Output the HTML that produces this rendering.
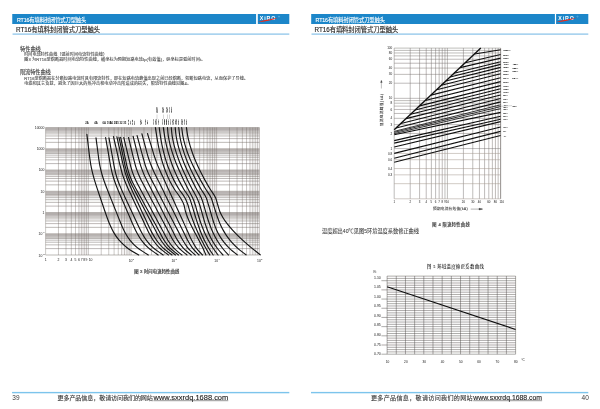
<!DOCTYPE html>
<html lang="zh"><head><meta charset="utf-8"><title>RT16有填料封闭管式刀型触头</title>
<style>
html,body{margin:0;padding:0;background:#fff;}
body{width:600px;height:409px;overflow:hidden;font-family:"Liberation Sans","Noto Sans CJK SC",sans-serif;}
svg{display:block;position:absolute;left:0;top:0;}
text{font-family:"Liberation Sans","Noto Sans CJK SC",sans-serif;}
text.sf{font-family:"Liberation Serif","Noto Serif CJK SC",serif;}
</style></head><body>
<svg width="600" height="409" viewBox="0 0 600 409">
<filter id="bl" x="0" y="0" width="600" height="409" filterUnits="userSpaceOnUse"><feGaussianBlur stdDeviation="0.32"/></filter>
<rect width="600" height="409" fill="#fff"/>
<g filter="url(#bl)">
<rect x="12.25" y="14" width="277.05" height="10" fill="#1b86c9"/>
<rect x="256.10" y="13.5" width="1.70" height="11" fill="#fff"/>
<rect x="12.55" y="33.5" width="276.75" height="1.2" fill="#86c1e8"/>
<rect x="12.05" y="391.9" width="277.25" height="1.4" fill="#7cc4ec"/>
<text x="259.70" y="20.1" font-family="Liberation Sans, sans-serif" font-weight="bold" font-size="5.3" fill="#fff" letter-spacing="0.95">XiRO</text>
<path d="M257.90 22.0C264.70 21.9 272.20 20.6 277.90 17.8C272.20 19.0 264.70 19.9 257.90 22.0Z" fill="#ea2a1c"/>
<circle cx="279.00" cy="16.6" r="0.6" fill="none" stroke="#cfe6f5" stroke-width="0.25"/>
<rect x="311.20" y="14" width="277.10" height="10" fill="#1b86c9"/>
<rect x="554.90" y="13.5" width="1.20" height="11" fill="#fff"/>
<rect x="311.50" y="33.5" width="276.80" height="1.2" fill="#86c1e8"/>
<rect x="311.00" y="391.9" width="277.30" height="1.4" fill="#7cc4ec"/>
<text x="558.20" y="20.1" font-family="Liberation Sans, sans-serif" font-weight="bold" font-size="5.3" fill="#fff" letter-spacing="0.95">XiRO</text>
<path d="M556.40 22.0C563.20 21.9 570.70 20.6 576.40 17.8C570.70 19.0 563.20 19.9 556.40 22.0Z" fill="#ea2a1c"/>
<circle cx="577.50" cy="16.6" r="0.6" fill="none" stroke="#cfe6f5" stroke-width="0.25"/>
<text x="17.00" y="21.61" font-size="5.3" fill="#ffffff" stroke="#ffffff" stroke-width="0.12" textLength="69.3">RT16有填料封闭管式刀型触头</text>
<text x="16.00" y="32.09" font-size="6.3" fill="#2b2b2b" stroke="#2b2b2b" stroke-width="0.15" textLength="84">RT16有填料封闭管式刀型触头</text>
<text x="315.60" y="21.61" font-size="5.3" fill="#ffffff" stroke="#ffffff" stroke-width="0.12" textLength="69.4">RT16有填料封闭管式刀型触头</text>
<text x="314.50" y="32.09" font-size="6.3" fill="#2b2b2b" stroke="#2b2b2b" stroke-width="0.15" textLength="83.9">RT16有填料封闭管式刀型触头</text>
<text x="20.00" y="50.78" font-size="5.2" fill="#404040" stroke="#404040" stroke-width="0.1" textLength="20.8">特性曲线</text>
<text x="24.20" y="55.86" font-size="4.1" fill="#454545" stroke="#454545" stroke-width="0.08" textLength="82.8">时间电流特性曲线（弧前时间电流特性曲线）</text>
<text x="24.20" y="60.86" font-size="4.1" fill="#454545" stroke="#454545" stroke-width="0.08" textLength="181">图3 为RT16型熔断器时间电流特性曲线，横坐标为预期短路电流Ip(有效值)，纵坐标是弧前时间t。</text>
<text x="20.00" y="74.48" font-size="5.2" fill="#404040" stroke="#404040" stroke-width="0.1" textLength="30.8">限流特性曲线</text>
<text x="24.20" y="79.56" font-size="4.1" fill="#454545" stroke="#454545" stroke-width="0.08" textLength="223.8">RT16型熔断器在分断短路电流时具有限流特性，即在短路电流峰值出现之前已经熔断，切断短路电流，从而保护了导线、</text>
<text x="24.20" y="84.56" font-size="4.1" fill="#454545" stroke="#454545" stroke-width="0.08" textLength="166.8">电缆和其它负载，避免了因巨大的热冲击和电动冲击所造成的损失，限流特性曲线见图4。</text>
<text x="57.50" y="399.92" font-size="6.1" fill="#333" stroke="#333" stroke-width="0.09" textLength="95.4">更多产品信息，敬请访问我们的网站</text>
<text x="153.50" y="399.9" font-family="Liberation Sans, sans-serif" font-size="7" fill="#222" stroke="#222" stroke-width="0.12" textLength="74.75" lengthAdjust="spacingAndGlyphs">www.sxxrdq.1688.com</text>
<rect x="153.50" y="400.6" width="74.75" height="0.5" fill="#2e2e2e"/>
<text x="12.30" y="399.8" font-family="Liberation Sans, sans-serif" font-size="6.5" fill="#3a3a3a">39</text>
<text x="371.00" y="399.92" font-size="6.1" fill="#333" stroke="#333" stroke-width="0.09" textLength="101.7">更多产品信息，敬请访问我们的网站</text>
<text x="473.30" y="399.9" font-family="Liberation Sans, sans-serif" font-size="7" fill="#222" stroke="#222" stroke-width="0.12" textLength="68.80" lengthAdjust="spacingAndGlyphs">www.sxxrdq.1688.com</text>
<rect x="473.30" y="400.6" width="68.80" height="0.5" fill="#2e2e2e"/>
<text x="581.60" y="399.8" font-family="Liberation Sans, sans-serif" font-size="6.5" fill="#3a3a3a">40</text>
<rect x="45.60" y="127.50" width="213.80" height="4.71" fill="#e8e6e5" opacity="0.9"/>
<rect x="45.60" y="148.75" width="213.80" height="4.71" fill="#e8e6e5" opacity="0.9"/>
<rect x="45.60" y="170.00" width="213.80" height="4.71" fill="#e8e6e5" opacity="0.9"/>
<rect x="45.60" y="191.25" width="213.80" height="4.71" fill="#e8e6e5" opacity="0.9"/>
<rect x="45.60" y="212.50" width="213.80" height="4.71" fill="#e8e6e5" opacity="0.9"/>
<rect x="45.60" y="233.75" width="213.80" height="4.71" fill="#e8e6e5" opacity="0.9"/>
<rect x="78.87" y="127.50" width="9.49" height="127.50" fill="#dcd9d7" opacity="0.25"/>
<rect x="121.63" y="127.50" width="9.49" height="127.50" fill="#dcd9d7" opacity="0.25"/>
<rect x="164.39" y="127.50" width="9.49" height="127.50" fill="#dcd9d7" opacity="0.25"/>
<rect x="207.15" y="127.50" width="9.49" height="127.50" fill="#dcd9d7" opacity="0.25"/>
<rect x="249.91" y="127.50" width="9.49" height="127.50" fill="#dcd9d7" opacity="0.25"/>
<path d="M45.60 127.50V255.00M58.47 127.50V255.00M66.00 127.50V255.00M71.34 127.50V255.00M75.49 127.50V255.00M78.87 127.50V255.00M81.74 127.50V255.00M84.22 127.50V255.00M86.40 127.50V255.00M88.36 127.50V255.00M101.23 127.50V255.00M108.76 127.50V255.00M114.10 127.50V255.00M118.25 127.50V255.00M121.63 127.50V255.00M124.50 127.50V255.00M126.98 127.50V255.00M129.16 127.50V255.00M131.12 127.50V255.00M143.99 127.50V255.00M151.52 127.50V255.00M156.86 127.50V255.00M161.01 127.50V255.00M164.39 127.50V255.00M167.26 127.50V255.00M169.74 127.50V255.00M171.92 127.50V255.00M173.88 127.50V255.00M186.75 127.50V255.00M194.28 127.50V255.00M199.62 127.50V255.00M203.77 127.50V255.00M207.15 127.50V255.00M210.02 127.50V255.00M212.50 127.50V255.00M214.68 127.50V255.00M216.64 127.50V255.00M229.51 127.50V255.00M237.04 127.50V255.00M242.38 127.50V255.00M246.53 127.50V255.00M249.91 127.50V255.00M252.78 127.50V255.00M255.26 127.50V255.00M257.44 127.50V255.00M259.40 127.50V255.00" stroke="#847d79" stroke-width="0.42" fill="none"/>
<path d="M45.60 255.00H259.40M45.60 248.60H259.40M45.60 244.86H259.40M45.60 242.21H259.40M45.60 240.15H259.40M45.60 238.46H259.40M45.60 237.04H259.40M45.60 235.81H259.40M45.60 234.72H259.40M45.60 233.75H259.40M45.60 227.35H259.40M45.60 223.61H259.40M45.60 220.96H259.40M45.60 218.90H259.40M45.60 217.21H259.40M45.60 215.79H259.40M45.60 214.56H259.40M45.60 213.47H259.40M45.60 212.50H259.40M45.60 206.10H259.40M45.60 202.36H259.40M45.60 199.71H259.40M45.60 197.65H259.40M45.60 195.96H259.40M45.60 194.54H259.40M45.60 193.31H259.40M45.60 192.22H259.40M45.60 191.25H259.40M45.60 184.85H259.40M45.60 181.11H259.40M45.60 178.46H259.40M45.60 176.40H259.40M45.60 174.71H259.40M45.60 173.29H259.40M45.60 172.06H259.40M45.60 170.97H259.40M45.60 170.00H259.40M45.60 163.60H259.40M45.60 159.86H259.40M45.60 157.21H259.40M45.60 155.15H259.40M45.60 153.46H259.40M45.60 152.04H259.40M45.60 150.81H259.40M45.60 149.72H259.40M45.60 148.75H259.40M45.60 142.35H259.40M45.60 138.61H259.40M45.60 135.96H259.40M45.60 133.90H259.40M45.60 132.21H259.40M45.60 130.79H259.40M45.60 129.56H259.40M45.60 128.47H259.40M45.60 127.50H259.40" stroke="#6b635f" stroke-width="0.45" fill="none"/>
<path d="M86.90 134.40C87.20 136.91 87.51 139.43 87.81 141.94C88.11 144.45 88.42 146.96 88.72 149.47C89.02 151.98 89.29 154.50 89.63 157.01C89.97 159.52 90.32 162.04 90.76 164.55C91.20 167.06 91.76 169.58 92.35 172.09C92.94 174.60 93.65 177.11 94.37 179.62C95.09 182.13 95.91 184.65 96.72 187.16C97.53 189.67 98.40 192.19 99.25 194.70C100.10 197.21 100.96 199.73 101.82 202.24C102.68 204.75 103.52 207.27 104.39 209.78C105.25 212.29 106.09 214.80 107.01 217.31C107.93 219.82 108.85 222.34 109.94 224.85C111.03 227.36 112.19 229.88 113.64 232.39C115.09 234.90 116.78 237.42 118.88 239.93C120.97 242.44 123.58 244.95 126.74 247.46C129.90 249.97 134.30 252.49 138.70 255.00M96.00 137.90C96.32 140.34 96.65 142.78 96.97 145.22C97.29 147.66 97.61 150.10 97.93 152.54C98.25 154.98 98.53 157.42 98.90 159.86C99.27 162.30 99.68 164.74 100.18 167.18C100.68 169.62 101.33 172.05 102.02 174.49C102.71 176.93 103.53 179.37 104.38 181.81C105.23 184.25 106.19 186.69 107.14 189.13C108.09 191.57 109.09 194.01 110.06 196.45C111.03 198.89 112.01 201.33 112.98 203.77C113.95 206.21 114.93 208.65 115.90 211.09C116.87 213.53 117.84 215.97 118.82 218.41C119.80 220.85 120.71 223.28 121.78 225.72C122.85 228.16 123.93 230.60 125.28 233.04C126.63 235.48 128.16 237.92 130.08 240.36C132.00 242.80 134.35 245.24 137.25 247.68C140.15 250.12 144.22 252.56 148.30 255.00M105.60 137.50C106.03 139.95 106.47 142.39 106.90 144.84C107.33 147.29 107.76 149.74 108.19 152.19C108.62 154.64 109.06 157.08 109.49 159.53C109.92 161.98 110.29 164.43 110.78 166.88C111.27 169.33 111.81 171.77 112.46 174.22C113.11 176.67 113.91 179.11 114.75 181.56C115.59 184.01 116.56 186.46 117.54 188.91C118.52 191.36 119.62 193.80 120.67 196.25C121.72 198.70 122.80 201.14 123.86 203.59C124.92 206.04 125.99 208.49 127.05 210.94C128.11 213.39 129.18 215.83 130.24 218.28C131.30 220.73 132.30 223.17 133.42 225.62C134.54 228.07 135.63 230.52 136.96 232.97C138.29 235.42 139.73 237.86 141.53 240.31C143.33 242.76 145.47 245.21 148.13 247.66C150.79 250.11 154.49 252.55 158.20 255.00M109.00 137.90C109.44 140.34 109.89 142.78 110.33 145.22C110.77 147.66 111.21 150.10 111.65 152.54C112.09 154.98 112.54 157.42 112.98 159.86C113.42 162.30 113.82 164.74 114.31 167.18C114.80 169.62 115.32 172.05 115.97 174.49C116.62 176.93 117.45 179.37 118.33 181.81C119.21 184.25 120.24 186.69 121.29 189.13C122.34 191.57 123.51 194.01 124.64 196.45C125.77 198.89 126.91 201.33 128.05 203.77C129.19 206.21 130.32 208.65 131.46 211.09C132.60 213.53 133.73 215.97 134.87 218.41C136.01 220.85 137.11 223.28 138.28 225.72C139.45 228.16 140.54 230.60 141.88 233.04C143.22 235.48 144.65 237.92 146.45 240.36C148.25 242.80 150.38 245.24 153.05 247.68C155.72 250.12 159.46 252.56 163.20 255.00M113.50 136.60C114.06 139.07 114.62 141.53 115.18 144.00C115.74 146.47 116.31 148.93 116.87 151.40C117.43 153.87 117.99 156.33 118.55 158.80C119.11 161.27 119.63 163.73 120.24 166.20C120.85 168.67 121.48 171.13 122.23 173.60C122.98 176.07 123.90 178.53 124.85 181.00C125.80 183.47 126.90 185.93 128.00 188.40C129.10 190.87 130.32 193.33 131.47 195.80C132.62 198.27 133.78 200.73 134.93 203.20C136.08 205.67 137.25 208.13 138.40 210.60C139.55 213.07 140.71 215.53 141.86 218.00C143.01 220.47 144.17 222.93 145.33 225.40C146.49 227.87 147.55 230.33 148.84 232.80C150.13 235.27 151.48 237.73 153.16 240.20C154.84 242.67 156.80 245.13 159.25 247.60C161.70 250.07 165.10 252.53 168.50 255.00M116.90 136.90C117.45 139.36 118.00 141.82 118.55 144.28C119.10 146.74 119.66 149.20 120.21 151.66C120.76 154.12 121.31 156.58 121.86 159.04C122.41 161.50 122.91 163.97 123.52 166.43C124.13 168.89 124.78 171.35 125.54 173.81C126.30 176.27 127.20 178.73 128.14 181.19C129.08 183.65 130.14 186.11 131.22 188.57C132.30 191.03 133.49 193.49 134.63 195.95C135.77 198.41 136.92 200.87 138.07 203.33C139.22 205.79 140.36 208.25 141.51 210.71C142.66 213.17 143.81 215.63 144.96 218.09C146.11 220.55 147.22 223.01 148.40 225.47C149.58 227.93 150.71 230.40 152.06 232.86C153.40 235.32 154.81 237.78 156.55 240.24C158.29 242.70 160.30 245.16 162.78 247.62C165.26 250.08 168.63 252.54 172.00 255.00M119.00 137.25C119.52 139.70 120.05 142.16 120.57 144.61C121.09 147.06 121.62 149.52 122.14 151.97C122.66 154.42 123.19 156.88 123.71 159.33C124.23 161.78 124.69 164.24 125.28 166.69C125.87 169.14 126.53 171.60 127.33 174.05C128.13 176.50 129.13 178.96 130.19 181.41C131.25 183.86 132.52 186.32 133.75 188.77C134.98 191.22 136.30 193.67 137.58 196.12C138.86 198.57 140.14 201.03 141.42 203.48C142.70 205.93 143.98 208.39 145.26 210.84C146.54 213.29 147.82 215.75 149.10 218.20C150.38 220.65 151.66 223.11 152.94 225.56C154.22 228.01 155.45 230.47 156.78 232.92C158.11 235.37 159.31 237.83 160.91 240.28C162.51 242.73 164.33 245.19 166.65 247.64C168.97 250.09 172.24 252.55 175.50 255.00M120.60 137.25C121.14 139.70 121.68 142.16 122.22 144.61C122.76 147.06 123.30 149.52 123.84 151.97C124.38 154.42 124.93 156.88 125.47 159.33C126.01 161.78 126.48 164.24 127.09 166.69C127.70 169.14 128.35 171.60 129.17 174.05C129.99 176.50 131.06 178.96 132.18 181.41C133.30 183.86 134.67 186.32 135.97 188.77C137.27 191.22 138.65 193.67 139.99 196.12C141.33 198.57 142.66 201.03 144.00 203.48C145.34 205.93 146.67 208.39 148.01 210.84C149.35 213.29 150.69 215.75 152.03 218.20C153.37 220.65 154.70 223.11 156.04 225.56C157.38 228.01 158.72 230.47 160.06 232.92C161.40 235.37 162.51 237.83 164.07 240.28C165.63 242.73 167.39 245.19 169.67 247.64C171.95 250.09 175.23 252.55 178.50 255.00M123.75 137.50C124.34 139.95 124.94 142.39 125.53 144.84C126.12 147.29 126.72 149.74 127.31 152.19C127.90 154.64 128.50 157.08 129.09 159.53C129.68 161.98 130.19 164.43 130.86 166.88C131.53 169.33 132.29 171.77 133.19 174.22C134.09 176.67 135.20 179.11 136.36 181.56C137.52 184.01 138.93 186.46 140.24 188.91C141.54 191.36 142.88 193.80 144.19 196.25C145.50 198.70 146.82 201.14 148.13 203.59C149.44 206.04 150.76 208.49 152.07 210.94C153.38 213.39 154.70 215.83 156.01 218.28C157.32 220.73 158.64 223.17 159.95 225.62C161.26 228.07 162.58 230.52 163.89 232.97C165.20 235.42 166.30 237.86 167.83 240.31C169.36 242.76 171.09 245.21 173.33 247.66C175.57 250.11 178.79 252.55 182.00 255.00M128.50 137.50C129.10 139.95 129.70 142.39 130.29 144.84C130.89 147.29 131.47 149.74 132.07 152.19C132.66 154.64 133.24 157.08 133.86 159.53C134.48 161.98 135.06 164.43 135.81 166.88C136.56 169.33 137.49 171.77 138.49 174.22C139.49 176.67 140.70 179.11 141.91 181.56C143.12 184.01 144.50 186.46 145.80 188.91C147.10 191.36 148.39 193.80 149.69 196.25C150.99 198.70 152.28 201.14 153.58 203.59C154.88 206.04 156.17 208.49 157.47 210.94C158.77 213.39 160.07 215.83 161.36 218.28C162.65 220.73 163.95 223.17 165.24 225.62C166.54 228.07 167.82 230.52 169.13 232.97C170.43 235.42 171.54 237.86 173.07 240.31C174.60 242.76 176.33 245.21 178.55 247.66C180.76 250.11 183.88 252.55 187.00 255.00M133.10 136.25C133.72 138.72 134.34 141.20 134.95 143.67C135.56 146.14 136.18 148.62 136.79 151.09C137.41 153.57 137.99 156.04 138.64 158.52C139.29 160.99 139.93 163.47 140.72 165.94C141.51 168.41 142.47 170.89 143.50 173.36C144.53 175.83 145.75 178.31 146.96 180.78C148.17 183.25 149.49 185.73 150.76 188.20C152.03 190.67 153.29 193.15 154.56 195.62C155.83 198.10 157.09 200.57 158.36 203.05C159.63 205.52 160.89 208.00 162.16 210.47C163.43 212.94 164.70 215.42 165.96 217.89C167.22 220.36 168.49 222.84 169.75 225.31C171.01 227.78 172.27 230.26 173.55 232.73C174.83 235.21 175.93 237.68 177.45 240.16C178.96 242.63 180.70 245.11 182.90 247.58C185.10 250.05 188.20 252.53 191.30 255.00M137.10 135.60C137.78 138.09 138.45 140.57 139.13 143.06C139.81 145.55 140.48 148.04 141.16 150.53C141.84 153.02 142.49 155.50 143.19 157.99C143.89 160.48 144.52 162.96 145.34 165.45C146.16 167.94 147.15 170.42 148.22 172.91C149.29 175.40 150.60 177.89 151.84 180.38C153.08 182.87 154.41 185.35 155.69 187.84C156.97 190.33 158.26 192.81 159.55 195.30C160.84 197.79 162.13 200.27 163.41 202.76C164.69 205.25 165.98 207.73 167.26 210.22C168.55 212.71 169.83 215.20 171.12 217.69C172.41 220.18 173.70 222.66 174.98 225.15C176.26 227.64 177.55 230.12 178.83 232.61C180.11 235.10 181.25 237.58 182.69 240.07C184.13 242.56 185.58 245.05 187.58 247.54C189.57 250.03 192.44 252.51 195.30 255.00M141.90 133.75C142.57 136.28 143.24 138.80 143.91 141.33C144.58 143.86 145.24 146.38 145.92 148.91C146.60 151.43 147.22 153.96 147.99 156.48C148.76 159.01 149.64 161.53 150.61 164.06C151.58 166.59 152.71 169.11 153.87 171.64C155.03 174.17 156.35 176.69 157.59 179.22C158.83 181.75 160.07 184.27 161.31 186.80C162.55 189.33 163.79 191.85 165.03 194.38C166.27 196.90 167.51 199.43 168.75 201.95C169.99 204.48 171.24 207.00 172.48 209.53C173.72 212.06 174.96 214.58 176.20 217.11C177.44 219.64 178.68 222.16 179.92 224.69C181.16 227.22 182.40 229.74 183.64 232.27C184.88 234.79 185.99 237.32 187.36 239.84C188.73 242.37 190.11 244.89 191.97 247.42C193.83 249.95 196.41 252.47 199.00 255.00M147.50 133.50C148.26 136.03 149.03 138.56 149.79 141.09C150.56 143.62 151.32 146.16 152.09 148.69C152.85 151.22 153.55 153.75 154.38 156.28C155.21 158.81 156.12 161.35 157.11 163.88C158.10 166.41 159.23 168.94 160.34 171.47C161.45 174.00 162.65 176.53 163.80 179.06C164.95 181.59 166.11 184.13 167.26 186.66C168.41 189.19 169.56 191.72 170.71 194.25C171.86 196.78 173.02 199.31 174.17 201.84C175.32 204.37 176.48 206.91 177.63 209.44C178.78 211.97 179.93 214.50 181.08 217.03C182.23 219.56 183.39 222.09 184.54 224.62C185.69 227.15 186.84 229.69 187.99 232.22C189.14 234.75 190.16 237.28 191.45 239.81C192.74 242.34 194.08 244.88 195.84 247.41C197.60 249.94 200.05 252.47 202.50 255.00M155.40 127.50C155.84 130.44 156.27 133.37 156.75 136.31C157.23 139.25 157.73 142.18 158.29 145.12C158.85 148.06 159.47 151.00 160.17 153.94C160.87 156.88 161.67 159.81 162.57 162.75C163.47 165.69 164.49 168.62 165.63 171.56C166.78 174.50 168.09 177.44 169.54 180.38C170.99 183.32 172.63 186.25 174.44 189.19C176.25 192.13 178.81 195.06 180.50 198.00C181.84 200.33 183.28 202.67 184.00 205.00C184.65 207.08 184.85 209.17 185.42 211.25C185.99 213.33 186.80 215.42 187.61 217.50C188.42 219.58 189.39 221.67 190.37 223.75C191.35 225.83 192.43 227.92 193.50 230.00C194.57 232.08 195.71 234.17 196.81 236.25C197.91 238.33 199.04 240.42 200.11 242.50C201.18 244.58 202.25 246.67 203.21 248.75C204.17 250.83 205.04 252.92 205.90 255.00M159.20 127.50C159.59 130.44 159.99 133.37 160.45 136.31C160.91 139.25 161.43 142.18 162.02 145.12C162.61 148.06 163.29 151.00 164.05 153.94C164.81 156.88 165.68 159.81 166.64 162.75C167.60 165.69 168.71 168.62 169.92 171.56C171.13 174.50 172.49 177.44 173.99 180.38C175.48 183.32 177.16 186.25 178.98 189.19C180.80 192.13 183.47 195.06 185.00 198.00C186.22 200.33 187.20 202.67 188.00 205.00C188.71 207.08 189.14 209.17 189.78 211.25C190.42 213.33 191.11 215.42 191.84 217.50C192.57 219.58 193.35 221.67 194.17 223.75C194.99 225.83 195.86 227.92 196.77 230.00C197.68 232.08 198.64 234.17 199.64 236.25C200.64 238.33 201.69 240.42 202.77 242.50C203.85 244.58 204.99 246.67 206.16 248.75C207.33 250.83 208.57 252.92 209.80 255.00M163.30 127.50C163.72 130.44 164.13 133.37 164.64 136.31C165.15 139.25 165.74 142.18 166.39 145.12C167.05 148.06 167.80 151.00 168.63 153.94C169.46 156.88 170.39 159.81 171.41 162.75C172.43 165.69 173.58 168.62 174.82 171.56C176.06 174.50 177.44 177.44 178.92 180.38C180.40 183.32 182.04 186.25 183.79 189.19C185.54 192.13 188.21 195.06 189.50 198.00C190.59 200.47 191.21 202.93 192.00 205.40C192.66 207.47 193.26 209.53 193.89 211.60C194.52 213.67 195.15 215.73 195.80 217.80C196.45 219.87 197.11 221.93 197.81 224.00C198.51 226.07 199.25 228.13 200.04 230.20C200.83 232.27 201.67 234.33 202.59 236.40C203.51 238.47 204.50 240.53 205.57 242.60C206.64 244.67 207.81 246.73 209.07 248.80C210.33 250.87 211.77 252.93 213.20 255.00M167.50 127.50C167.74 130.44 167.99 133.37 168.38 136.31C168.77 139.25 169.47 142.18 170.17 145.12C170.87 148.06 171.79 151.00 172.74 153.94C173.69 156.88 174.80 159.81 175.95 162.75C177.10 165.69 178.38 168.62 179.68 171.56C180.99 174.50 182.38 177.44 183.80 180.38C185.22 183.32 186.71 186.25 188.19 189.19C189.67 192.13 191.44 195.06 192.70 198.00C193.70 200.33 194.55 202.67 195.30 205.00C195.97 207.08 196.48 209.17 197.09 211.25C197.70 213.33 198.32 215.42 198.98 217.50C199.64 219.58 200.33 221.67 201.08 223.75C201.83 225.83 202.62 227.92 203.48 230.00C204.34 232.08 205.27 234.17 206.28 236.25C207.29 238.33 208.40 240.42 209.59 242.50C210.78 244.58 212.08 246.67 213.49 248.75C214.90 250.83 216.50 252.92 218.10 255.00M171.25 127.50C171.53 130.44 171.80 133.37 172.23 136.31C172.66 139.25 173.35 142.18 174.06 145.12C174.77 148.06 175.68 151.00 176.63 153.94C177.58 156.88 178.69 159.81 179.84 162.75C180.99 165.69 182.26 168.62 183.58 171.56C184.90 174.50 186.31 177.44 187.76 180.38C189.21 183.32 190.73 186.25 192.27 189.19C193.81 192.13 195.69 195.06 197.00 198.00C198.04 200.33 198.92 202.67 199.70 205.00C200.40 207.08 200.97 209.17 201.57 211.25C202.17 213.33 202.73 215.42 203.33 217.50C203.93 219.58 204.52 221.67 205.19 223.75C205.86 225.83 206.55 227.92 207.35 230.00C208.15 232.08 209.03 234.17 210.02 236.25C211.01 238.33 212.13 240.42 213.38 242.50C214.63 244.58 216.06 246.67 217.64 248.75C219.22 250.83 221.11 252.92 223.00 255.00M175.20 127.50C175.47 130.44 175.75 133.37 176.17 136.31C176.59 139.25 177.30 142.18 178.02 145.12C178.74 148.06 179.66 151.00 180.63 153.94C181.60 156.88 182.72 159.81 183.89 162.75C185.06 165.69 186.37 168.62 187.71 171.56C189.05 174.50 190.49 177.44 191.97 180.38C193.44 183.32 195.00 186.25 196.57 189.19C198.14 192.13 200.20 195.06 201.40 198.00C202.35 200.33 202.99 202.67 203.70 205.00C204.34 207.08 204.88 209.17 205.49 211.25C206.10 213.33 206.69 215.42 207.34 217.50C207.99 219.58 208.66 221.67 209.41 223.75C210.16 225.83 210.95 227.92 211.84 230.00C212.73 232.08 213.71 234.17 214.80 236.25C215.89 238.33 217.11 240.42 218.45 242.50C219.79 244.58 221.29 246.67 222.93 248.75C224.57 250.83 226.49 252.92 228.40 255.00M178.75 127.50C179.06 130.44 179.36 133.37 179.82 136.31C180.28 139.25 180.99 142.18 181.73 145.12C182.47 148.06 183.40 151.00 184.39 153.94C185.38 156.88 186.53 159.81 187.74 162.75C188.95 165.69 190.29 168.62 191.68 171.56C193.08 174.50 194.58 177.44 196.14 180.38C197.70 183.32 199.35 186.25 201.04 189.19C202.73 192.13 205.10 195.06 206.30 198.00C207.25 200.33 207.78 202.67 208.50 205.00C209.14 207.07 209.78 209.15 210.39 211.22C211.00 213.30 211.54 215.37 212.16 217.45C212.78 219.53 213.38 221.60 214.10 223.68C214.82 225.75 215.61 227.83 216.54 229.90C217.47 231.97 218.53 234.05 219.76 236.12C220.99 238.20 222.43 240.27 224.07 242.35C225.71 244.43 227.63 246.50 229.78 248.58C231.93 250.65 234.56 252.73 237.20 254.80M181.70 127.50C182.05 130.44 182.41 133.37 182.93 136.31C183.45 139.25 184.24 142.18 185.07 145.12C185.90 148.06 186.93 151.00 188.02 153.94C189.11 156.88 190.36 159.81 191.67 162.75C192.98 165.69 194.44 168.62 195.93 171.56C197.43 174.50 199.03 177.44 200.67 180.38C202.31 183.32 204.04 186.25 205.79 189.19C207.54 192.13 209.96 195.06 211.20 198.00C212.19 200.33 212.74 202.67 213.50 205.00C214.17 207.07 214.82 209.15 215.50 211.22C216.18 213.30 216.83 215.37 217.58 217.45C218.33 219.53 219.11 221.60 220.00 223.68C220.89 225.75 221.88 227.83 223.01 229.90C224.14 231.97 225.42 234.05 226.86 236.12C228.31 238.20 229.96 240.27 231.81 242.35C233.66 244.43 235.76 246.50 238.10 248.58C240.43 250.65 243.22 252.73 246.00 254.80M186.40 127.50C186.81 130.44 187.21 133.37 187.77 136.31C188.33 139.25 189.10 142.18 189.92 145.12C190.74 148.06 191.73 151.00 192.79 153.94C193.84 156.88 195.05 159.81 196.32 162.75C197.59 165.69 198.98 168.62 200.44 171.56C201.90 174.50 203.47 177.44 205.09 180.38C206.71 183.32 208.42 186.25 210.19 189.19C211.96 192.13 214.52 195.06 215.70 198.00C216.63 200.33 217.09 202.67 217.80 205.00C218.43 207.07 218.93 209.15 219.72 211.22C220.52 213.30 221.66 215.37 222.87 217.45C224.08 219.53 225.56 221.60 227.12 223.68C228.68 225.75 230.47 227.83 232.33 229.90C234.19 231.97 236.25 234.05 238.37 236.12C240.50 238.20 242.78 240.27 245.12 242.35C247.46 244.43 249.93 246.50 252.44 248.58C254.95 250.65 257.57 252.73 260.20 254.80" stroke="#141414" stroke-width="1.15" fill="none" stroke-linecap="round" stroke-linejoin="round"/>
<g font-size="3.4" fill="#151515">
<text x="34.85" y="128.75">10000</text>
<text x="36.74" y="150.00">1000</text>
<text x="38.63" y="171.25">100</text>
<text x="40.52" y="192.50">10</text>
<text x="42.41" y="213.75">1</text>
<text x="38.62" y="235.25">10</text>
<text x="42.40" y="233.45" font-size="2.4">-1</text>
<text x="38.62" y="256.50">10</text>
<text x="42.40" y="254.70" font-size="2.4">-2</text>
<text x="44.65" y="261.20">1</text>
<text x="57.53" y="261.20">2</text>
<text x="65.06" y="261.20">3</text>
<text x="70.40" y="261.20">4</text>
<text x="74.54" y="261.20">5</text>
<text x="77.93" y="261.20">6</text>
<text x="80.79" y="261.20">7</text>
<text x="83.27" y="261.20">8</text>
<text x="85.46" y="261.20">9</text>
<text x="88.71" y="261.20">10</text>
<text x="128.73" y="261.50">10</text>
<text x="132.62" y="259.50" font-size="2.4">2</text>
<text x="171.49" y="261.50">10</text>
<text x="175.38" y="259.50" font-size="2.4">3</text>
<text x="214.25" y="261.50">10</text>
<text x="218.14" y="259.50" font-size="2.4">4</text>
<text x="257.01" y="261.50">10</text>
<text x="260.90" y="259.50" font-size="2.4">5</text>
</g>
<text x="134.20" y="273.13" font-size="4.3" fill="#484848" stroke="#484848" stroke-width="0.2" textLength="45.1">图 3 时间电流特性曲线</text>
<g font-size="2.25" font-weight="bold" fill="#1a1a1a">
<text transform="translate(129.05 122.60) rotate(-90)" x="-2.75" y="0">NT40</text>
<text transform="translate(130.50 122.60) rotate(-90)" x="-2.06" y="0">40A</text>
<text transform="translate(133.45 122.60) rotate(-90)" x="-2.75" y="0">NT50</text>
<text transform="translate(134.90 122.60) rotate(-90)" x="-2.06" y="0">50A</text>
<text transform="translate(140.65 122.20) rotate(-90)" x="-2.75" y="0">NT63</text>
<text transform="translate(142.10 122.20) rotate(-90)" x="-2.06" y="0">63A</text>
<text transform="translate(146.25 122.20) rotate(-90)" x="-2.75" y="0">NT80</text>
<text transform="translate(147.70 122.20) rotate(-90)" x="-2.06" y="0">80A</text>
<text transform="translate(154.35 122.00) rotate(-90)" x="-2.75" y="0">NT10</text>
<text transform="translate(155.80 122.00) rotate(-90)" x="-2.69" y="0">100A</text>
<text transform="translate(157.35 122.00) rotate(-90)" x="-2.75" y="0">NT12</text>
<text transform="translate(158.80 122.00) rotate(-90)" x="-2.69" y="0">125A</text>
<text transform="translate(163.15 122.00) rotate(-90)" x="-2.75" y="0">NT16</text>
<text transform="translate(164.60 122.00) rotate(-90)" x="-2.69" y="0">160A</text>
<text transform="translate(165.15 122.00) rotate(-90)" x="-2.75" y="0">NT20</text>
<text transform="translate(166.60 122.00) rotate(-90)" x="-2.69" y="0">200A</text>
<text transform="translate(167.35 122.00) rotate(-90)" x="-2.75" y="0">NT25</text>
<text transform="translate(168.80 122.00) rotate(-90)" x="-2.69" y="0">250A</text>
<text transform="translate(171.35 122.00) rotate(-90)" x="-2.75" y="0">NT31</text>
<text transform="translate(172.80 122.00) rotate(-90)" x="-2.69" y="0">315A</text>
<text transform="translate(174.35 122.00) rotate(-90)" x="-2.75" y="0">NT40</text>
<text transform="translate(175.80 122.00) rotate(-90)" x="-2.69" y="0">400A</text>
<text transform="translate(177.35 122.00) rotate(-90)" x="-2.75" y="0">NT50</text>
<text transform="translate(178.80 122.00) rotate(-90)" x="-2.69" y="0">500A</text>
<text transform="translate(181.85 122.00) rotate(-90)" x="-2.75" y="0">NT63</text>
<text transform="translate(183.30 122.00) rotate(-90)" x="-2.69" y="0">630A</text>
<text transform="translate(185.35 122.00) rotate(-90)" x="-2.75" y="0">NT80</text>
<text transform="translate(186.80 122.00) rotate(-90)" x="-2.69" y="0">800A</text>
<text transform="translate(156.85 110.00) rotate(-90)" x="-2.75" y="0">NT22</text>
<text transform="translate(158.30 110.00) rotate(-90)" x="-2.69" y="0">224A</text>
<text transform="translate(162.85 110.00) rotate(-90)" x="-2.75" y="0">NT35</text>
<text transform="translate(164.30 110.00) rotate(-90)" x="-2.69" y="0">355A</text>
<text transform="translate(166.85 110.00) rotate(-90)" x="-2.75" y="0">NT42</text>
<text transform="translate(168.30 110.00) rotate(-90)" x="-2.69" y="0">425A</text>
<text transform="translate(170.35 110.00) rotate(-90)" x="-2.75" y="0">NT10</text>
<text transform="translate(171.80 110.00) rotate(-90)" x="-3.32" y="0">1000A</text>
</g>
<g font-size="2.7" font-weight="bold" fill="#222">
<text x="85.17" y="124.10">2A</text>
<text x="94.27" y="124.10">4A</text>
<text x="102.62" y="124.10">6A 10A</text>
<text x="110.02" y="124.10">16 20</text>
<text x="115.75" y="124.10">25 32 35</text>
</g>
<path d="M157.00 114.50V119.00M163.50 114.50V119.00M167.50 114.50V119.00M169.50 114.50V119.00" stroke="#777" stroke-width="0.3" fill="none"/>
<path d="M394.20 48.10V198.80M410.21 48.10V198.80M419.58 48.10V198.80M426.23 48.10V198.80M431.39 48.10V198.80M435.60 48.10V198.80M439.16 48.10V198.80M442.24 48.10V198.80M444.97 48.10V198.80M447.40 48.10V198.80M463.41 48.10V198.80M472.78 48.10V198.80M479.43 48.10V198.80M484.59 48.10V198.80M488.80 48.10V198.80M492.36 48.10V198.80M495.44 48.10V198.80M498.17 48.10V198.80M500.60 48.10V198.80M500.60 48.10V198.80M394.20 148.57H500.60M394.20 133.44H500.60M394.20 124.60H500.60M394.20 118.32H500.60M394.20 113.46H500.60M394.20 109.48H500.60M394.20 106.11H500.60M394.20 103.20H500.60M394.20 100.63H500.60M394.20 98.33H500.60M394.20 83.21H500.60M394.20 74.37H500.60M394.20 68.09H500.60M394.20 63.22H500.60M394.20 59.24H500.60M394.20 55.88H500.60M394.20 52.97H500.60M394.20 50.40H500.60M394.20 48.10H500.60" stroke="#6f6966" stroke-width="0.45" fill="none"/>
<path d="M394.20 198.80H500.60M394.20 183.68H500.60M394.20 174.83H500.60M394.20 168.56H500.60M394.20 159.71H500.60M394.20 153.43H500.60" stroke="#a2978c" stroke-width="0.5" fill="none"/>
<path d="M474.59 53.96L500.60 49.80M465.20 62.82L500.60 54.50M460.12 67.61L500.60 58.10M454.05 73.34L500.60 61.70M450.15 77.01L500.60 64.40M445.83 81.09L500.60 67.40M441.36 85.31L500.60 70.50M436.74 89.66L500.60 73.70M430.97 95.11L500.60 77.70M425.28 100.48L500.60 81.65M419.58 105.85L500.60 85.60M415.11 110.07L500.60 88.70M410.64 114.29L500.60 91.80M406.03 118.64L500.60 95.00M400.98 123.41L500.60 98.50M396.07 128.03L500.60 101.90M394.20 134.80L500.60 112.40M394.20 140.60L500.60 116.20M394.20 143.10L500.60 119.20M394.20 147.00L500.60 121.60M394.20 153.40L500.60 127.00M394.20 158.20L500.60 131.40M394.20 162.20L500.60 135.50" stroke="#111" stroke-width="1.1" fill="none"/>
<path d="M394.20 131.40L500.60 104.80M394.20 132.40L500.60 106.60M394.20 133.60L500.60 108.60" stroke="#111" stroke-width="0.85" fill="none"/>
<path d="M394.20 129.80L480.80 48.10" stroke="#111" stroke-width="1.4" fill="none"/>
<g font-size="2.5" font-weight="bold" fill="#000">
<text x="503.20" y="50.80">1250A</text>
<text x="503.20" y="55.50">800A</text>
<text x="503.20" y="59.10">630A</text>
<text x="503.20" y="62.70">500A</text>
<text x="503.20" y="65.40">400A</text>
<text x="503.20" y="68.40">355A</text>
<text x="503.20" y="71.50">315A</text>
<text x="503.20" y="74.70">250A</text>
<text x="503.20" y="78.70">224A</text>
<text x="503.20" y="82.65">200A</text>
<text x="503.20" y="86.60">160A</text>
<text x="503.20" y="89.70">125A</text>
<text x="503.20" y="92.80">100A</text>
<text x="503.20" y="96.00">80A</text>
<text x="503.20" y="99.50">63A</text>
<text x="503.20" y="102.90">50A</text>
<text x="503.20" y="105.60">40A</text>
<text x="503.20" y="108.00">35A</text>
<text x="503.20" y="110.40">32A</text>
<text x="503.20" y="113.60">25A</text>
<text x="503.20" y="117.20">20A</text>
<text x="503.20" y="120.20">16A</text>
<text x="503.20" y="128.00">10A</text>
<text x="503.20" y="132.40">6A</text>
<text x="503.20" y="136.50">4A</text>
<text x="512.30" y="65.40">425A</text>
<text x="512.30" y="68.60">355A</text>
<text x="512.30" y="72.00">300A</text>
<text x="512.30" y="78.70">224A</text>
<text x="512.50" y="106.60">20A</text>
</g>
<path d="M501 106.3L512 105.6" stroke="#777" stroke-width="0.3"/>
<g font-size="3.1" fill="#151515">
<text x="387.13" y="49.20">100</text>
<text x="388.85" y="54.07">80</text>
<text x="388.85" y="60.34">60</text>
<text x="388.85" y="69.19">40</text>
<text x="388.85" y="75.47">30</text>
<text x="388.85" y="84.31">20</text>
<text x="388.85" y="99.43">10</text>
<text x="390.58" y="104.30">8</text>
<text x="390.58" y="110.58">6</text>
<text x="390.58" y="119.42">4</text>
<text x="390.58" y="125.70">3</text>
<text x="390.58" y="134.54">2</text>
<text x="390.58" y="149.67">1</text>
<text x="387.99" y="154.53">0.8</text>
<text x="387.99" y="160.81">0.6</text>
<text x="387.99" y="169.66">0.4</text>
<text x="387.99" y="175.93">0.3</text>
</g>
<g font-size="2.9" fill="#151515">
<text x="393.39" y="202.50">1</text>
<text x="409.41" y="202.50">2</text>
<text x="418.78" y="202.50">3</text>
<text x="425.42" y="202.50">4</text>
<text x="430.58" y="202.50">5</text>
<text x="434.79" y="202.50">6</text>
<text x="438.35" y="202.50">7</text>
<text x="441.44" y="202.50">8</text>
<text x="444.16" y="202.50">9</text>
<text x="445.79" y="202.50">10</text>
<text x="461.80" y="202.50">20</text>
<text x="471.17" y="202.50">30</text>
<text x="477.82" y="202.50">40</text>
<text x="487.18" y="202.50">60</text>
<text x="493.83" y="202.50">80</text>
<text x="499.38" y="202.50">110</text>
</g>
<g transform="translate(381.4 108) rotate(-90)"><text x="-18.00" y="1.25" font-size="3.3" fill="#444" stroke="#444" stroke-width="0.1" textLength="32">限流电流峰值(kA)</text></g>
<path d="M381.4 88.5V81M380.6 82.5L381.4 80.3L382.2 82.5Z" stroke="#444" stroke-width="0.35" fill="#444"/>
<text x="433.00" y="210.41" font-size="3.7" fill="#484848" stroke="#484848" stroke-width="0.1" textLength="34.7">预期电流有效值(kA)</text>
<path d="M470.7 209.1H482M479 208.3L482.7 209.1L479 209.9Z" stroke="#444" stroke-width="0.4" fill="#444"/>
<text x="432.30" y="226.00" font-size="4.2" fill="#484848" stroke="#484848" stroke-width="0.2" textLength="37.3">图 4 限流特性曲线</text>
<text x="322.00" y="232.98" font-size="5.2" fill="#444" stroke="#444" stroke-width="0.08" textLength="97">温度超出40℃见图5环境温度系数修正曲线</text>
<path d="M387.10 276.11H515.60M387.10 278.40H515.60M387.10 280.70H515.60M387.10 283.00H515.60M387.10 285.29H515.60M387.10 287.59H515.60M387.10 289.89H515.60M387.10 292.18H515.60M387.10 294.48H515.60M387.10 296.78H515.60M387.10 299.07H515.60M387.10 301.37H515.60M387.10 303.67H515.60M387.10 305.97H515.60M387.10 308.26H515.60M387.10 310.56H515.60M387.10 312.86H515.60M387.10 315.15H515.60M387.10 317.45H515.60M387.10 319.75H515.60M387.10 322.04H515.60M387.10 324.34H515.60M387.10 326.64H515.60M387.10 328.93H515.60M387.10 331.23H515.60M387.10 333.53H515.60M387.10 335.82H515.60M387.10 338.12H515.60M387.10 340.42H515.60M387.10 342.72H515.60M387.10 345.01H515.60M387.10 347.31H515.60M387.10 349.61H515.60M387.10 351.90H515.60M387.10 354.20H515.60M387.10 276.00V354.20M396.28 276.00V354.20M405.46 276.00V354.20M414.64 276.00V354.20M423.81 276.00V354.20M432.99 276.00V354.20M442.17 276.00V354.20M451.35 276.00V354.20M460.53 276.00V354.20M469.71 276.00V354.20M478.89 276.00V354.20M488.06 276.00V354.20M497.24 276.00V354.20M506.42 276.00V354.20M515.60 276.00V354.20M381.4 280.70H387.10M381.4 289.89H387.10M381.4 299.07H387.10M381.4 308.26H387.10M381.4 317.45H387.10M381.4 326.64H387.10M381.4 335.82H387.10M381.4 345.01H387.10M381.4 354.20H387.10" stroke="#4a4644" stroke-width="0.45" fill="none"/>
<path d="M387.10 286.7L515.60 329.5" stroke="#111" stroke-width="1.2" fill="none"/>
<g font-size="3.5" fill="#151515">
<text x="373.99" y="278.85">1.10</text>
<text x="373.99" y="288.37">1.05</text>
<text x="373.99" y="297.90">1.00</text>
<text x="373.99" y="307.42">0.95</text>
<text x="373.99" y="316.95">0.90</text>
<text x="373.99" y="326.47">0.85</text>
<text x="373.99" y="336.00">0.80</text>
<text x="373.99" y="345.52">0.75</text>
<text x="373.99" y="355.05">0.70</text>
</g>
<text x="373.40" y="272.80" font-size="3" fill="#151515">Kt</text>
<g font-size="3.2" fill="#151515">
<text x="385.82" y="362.80">10</text>
<text x="404.12" y="362.80">20</text>
<text x="422.42" y="362.80">30</text>
<text x="440.72" y="362.80">40</text>
<text x="459.02" y="362.80">50</text>
<text x="477.32" y="362.80">60</text>
<text x="495.62" y="362.80">70</text>
<text x="513.92" y="362.80">80</text>
</g>
<text x="521.20" y="360.60" font-size="3" fill="#151515">°C</text>
<text class="sf" x="427.00" y="268.43" font-size="4.3" font-weight="bold" fill="#222" textLength="56.75">图 5 环境温度修正系数曲线</text>
</g>
</svg>
</body></html>
